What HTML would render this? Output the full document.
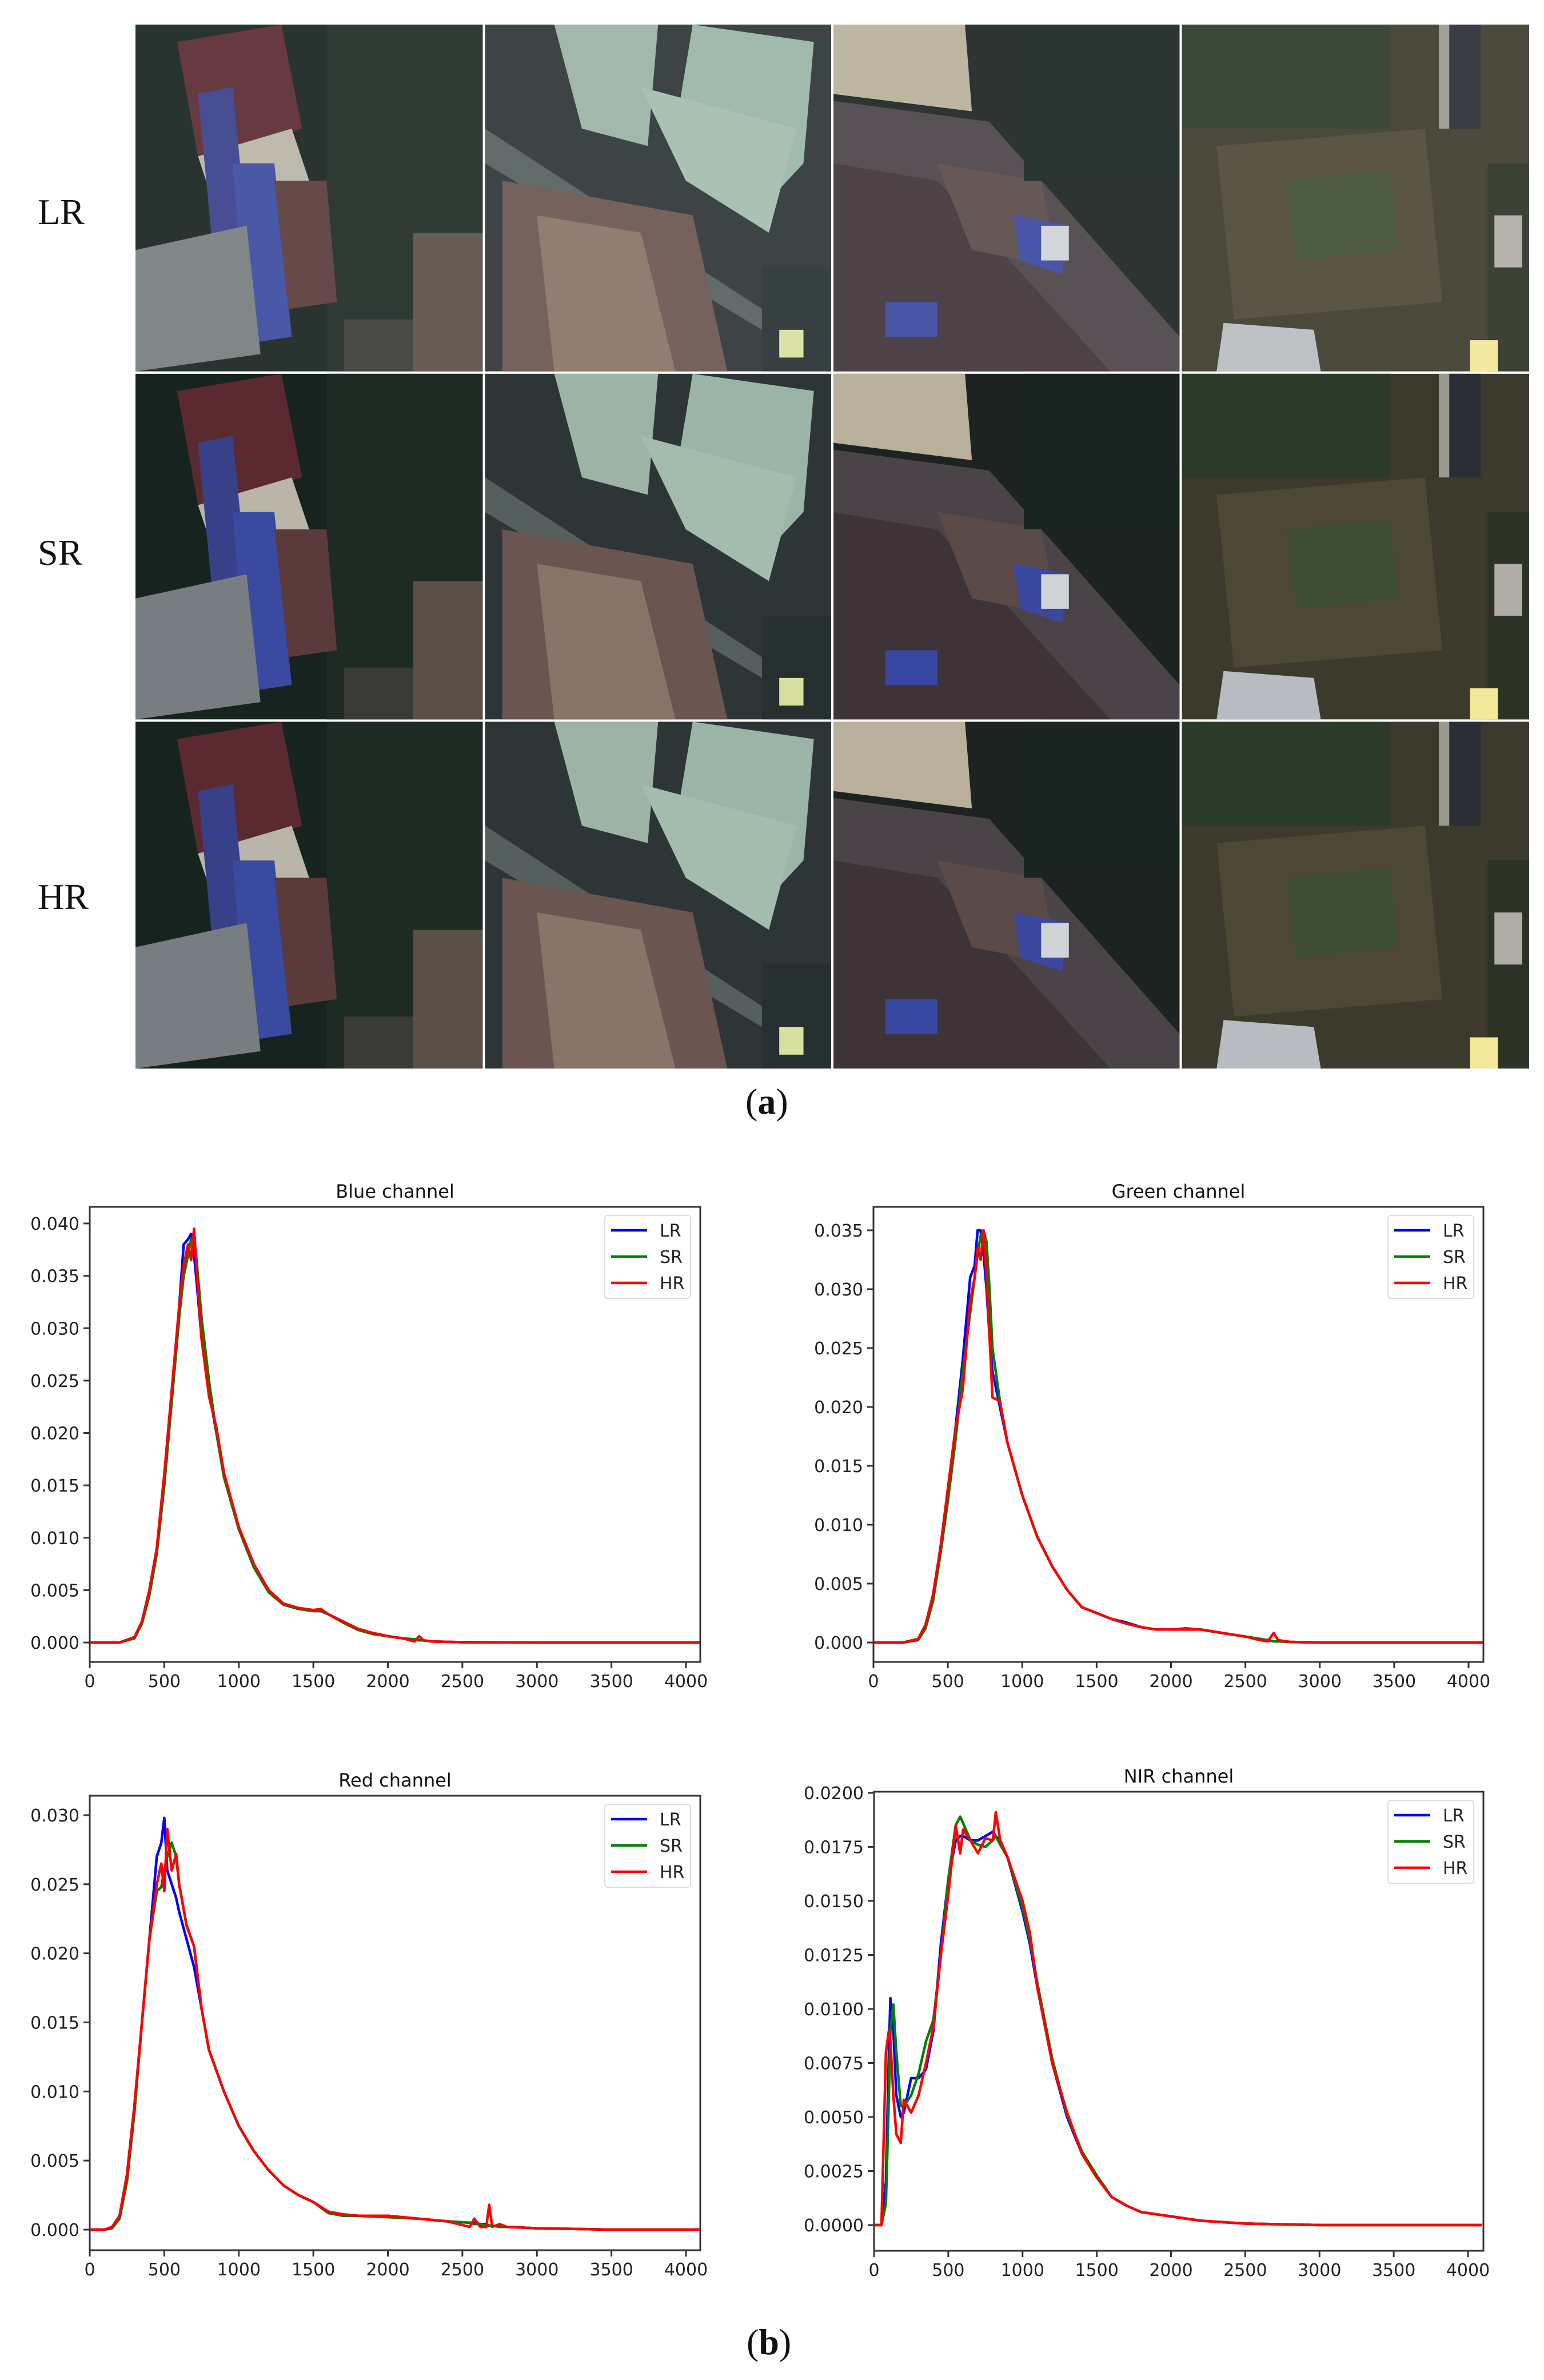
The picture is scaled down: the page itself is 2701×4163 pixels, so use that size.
<!DOCTYPE html>
<html><head><meta charset="utf-8">
<style>
html,body{margin:0;padding:0;background:#fff;}
body{width:2701px;height:4163px;position:relative;overflow:hidden;}
.rowlabel{position:absolute;font-family:"Liberation Serif",serif;font-size:64px;color:#111;}
.cap{position:absolute;font-family:"Liberation Serif",serif;font-size:64px;color:#111;}
</style></head>
<body>
<div class="rowlabel" style="left:66px;top:334px;">LR</div>
<div class="rowlabel" style="left:66px;top:930px;">SR</div>
<div class="rowlabel" style="left:66px;top:1532px;">HR</div>
<div class="cap" style="left:1304px;top:1890px;">(<b>a</b>)</div>
<div class="cap" style="left:1306px;top:4060px;">(<b>b</b>)</div>

<svg id="grid" width="2701" height="1900" style="position:absolute;left:0;top:0;" xmlns="http://www.w3.org/2000/svg">
<defs>
<symbol id="t1" viewBox="0 0 100 100" preserveAspectRatio="none">
<rect width="100" height="100" fill="#17231f"/>
<rect x="55" y="0" width="45" height="100" fill="#1e2a24"/>
<polygon points="12,5 42,0 48,30 18,38" fill="#5a2a30"/>
<polygon points="18,38 45,30 50,45 22,50" fill="#b9b5a8"/>
<polygon points="18,20 28,18 32,60 22,62" fill="#38408a"/>
<polygon points="28,40 40,40 45,90 32,92" fill="#3a4aa0"/>
<polygon points="40,45 55,45 58,80 44,82" fill="#5a3a3a"/>
<polygon points="0,65 32,58 36,95 0,100" fill="#777d80"/>
<rect x="80" y="60" width="20" height="40" fill="#5a5048"/>
<rect x="60" y="85" width="20" height="15" fill="#3a3a36"/>
</symbol>
<symbol id="t2" viewBox="0 0 100 100" preserveAspectRatio="none">
<rect width="100" height="100" fill="#2e3536"/>
<polygon points="20,0 50,0 47,35 28,30" fill="#9cb3a6"/>
<polygon points="60,0 95,5 92,40 78,55 55,30" fill="#9ab5a8"/>
<polygon points="45,18 90,30 82,60 58,45" fill="#a4bcae"/>
<polygon points="0,30 100,95 100,100 0,40" fill="#55605e"/>
<polygon points="5,45 60,55 70,100 5,100" fill="#6a5550"/>
<polygon points="15,55 45,60 55,100 20,100" fill="#8a7368"/>
<rect x="80" y="70" width="20" height="30" fill="#263030"/>
<rect x="85" y="88" width="7" height="8" fill="#d8e0a0"/>
</symbol>
<symbol id="t3" viewBox="0 0 100 100" preserveAspectRatio="none">
<rect width="100" height="100" fill="#1c2320"/>
<polygon points="0,0 38,0 40,25 0,20" fill="#b8b09a"/>
<polygon points="0,22 45,28 100,90 100,100 60,100 0,45" fill="#4a4448"/>
<polygon points="0,40 30,45 80,100 0,100" fill="#3e3438"/>
<polygon points="30,40 60,45 65,70 40,65" fill="#5a4a48"/>
<polygon points="52,55 68,58 66,72 54,68" fill="#3a48a0"/>
<rect x="60" y="58" width="8" height="10" fill="#d0d4d8"/>
<rect x="15" y="80" width="15" height="10" fill="#3848a0"/>
<rect x="55" y="0" width="45" height="45" fill="#1a2420"/>
</symbol>
<symbol id="t4" viewBox="0 0 100 100" preserveAspectRatio="none">
<rect width="100" height="100" fill="#3b3a2c"/>
<rect x="0" y="0" width="60" height="30" fill="#2c3a2a"/>
<polygon points="10,35 70,30 75,80 15,85" fill="#4d4736"/>
<polygon points="30,45 60,42 62,65 33,68" fill="#3e4e34"/>
<rect x="76" y="0" width="10" height="30" fill="#2a2e34"/>
<rect x="74" y="0" width="3" height="30" fill="#9a9a90"/>
<rect x="88" y="40" width="12" height="60" fill="#2c3326"/>
<rect x="90" y="55" width="8" height="15" fill="#b0aca8"/>
<polygon points="12,86 38,88 40,100 10,100" fill="#b8bcc0"/>
<rect x="83" y="91" width="8" height="9" fill="#f4e89a"/>
</symbol>
</defs>
</svg>

<svg id="charts" width="2701" height="4163" style="position:absolute;left:0;top:0;" xmlns="http://www.w3.org/2000/svg"></svg>

<script>
// ---- chart data ----
const seriesNames = ["LR", "SR", "HR"];
const xTickValues = [0, 500, 1000, 1500, 2000, 2500, 3000, 3500, 4000];

const blueX  = [0,200,300,350,400,450,500,550,600,630,660,680,700,720,750,800,850,900,1000,1100,1200,1300,1400,1500,1550,1600,1700,1800,1900,2000,2100,2180,2210,2240,2300,2500,3000,4096];
const blueLR = [0,0,0.0005,0.002,0.005,0.009,0.016,0.024,0.032,0.038,0.0385,0.039,0.037,0.034,0.029,0.024,0.020,0.016,0.011,0.0075,0.005,0.0037,0.0033,0.003,0.003,0.0027,0.002,0.0013,0.0009,0.0006,0.0004,0.0003,0.0002,0.0002,0.0001,0.00003,0,0];
const blueSR = [0,0,0.0004,0.0018,0.0045,0.0085,0.015,0.023,0.031,0.035,0.037,0.0385,0.0388,0.036,0.031,0.025,0.020,0.0158,0.0108,0.0072,0.0048,0.0036,0.0032,0.003,0.003,0.0027,0.0019,0.0012,0.0008,0.0006,0.0004,0.0003,0.0002,0.0002,0.0001,0.00003,0,0];
const blueHR = [0,0,0.0005,0.002,0.005,0.009,0.016,0.024,0.032,0.036,0.038,0.0365,0.0395,0.035,0.029,0.0235,0.0205,0.0162,0.011,0.0075,0.005,0.0037,0.0033,0.0031,0.0032,0.0027,0.002,0.0013,0.0009,0.0006,0.0004,0.0001,0.0006,0.0002,0.0001,0.00003,0,0];
const blueYTicks = [0,0.005,0.010,0.015,0.020,0.025,0.030,0.035,0.040];

const greenX  = [0,200,300,350,400,450,500,550,600,650,680,700,720,740,760,780,800,850,900,1000,1100,1200,1300,1400,1500,1600,1700,1800,1900,2000,2100,2200,2300,2400,2500,2600,2650,2690,2720,2800,3000,4096];
const greenLR = [0,0,0.0003,0.0015,0.004,0.008,0.013,0.018,0.024,0.031,0.032,0.035,0.035,0.033,0.030,0.026,0.023,0.020,0.017,0.0125,0.009,0.0065,0.0045,0.003,0.0025,0.002,0.0017,0.0013,0.0011,0.0011,0.0011,0.0011,0.0009,0.0007,0.0005,0.0003,0.0002,0.0001,0.0001,0.00005,0,0];
const greenSR = [0,0,0.0002,0.0012,0.0035,0.0075,0.012,0.017,0.023,0.028,0.031,0.033,0.0345,0.035,0.034,0.030,0.025,0.0205,0.017,0.0125,0.009,0.0065,0.0045,0.003,0.0025,0.002,0.0016,0.0013,0.0011,0.0011,0.0012,0.0011,0.0009,0.0007,0.0005,0.0003,0.0002,0.0001,0.0001,0.00005,0,0];
const greenHR = [0,0,0.0003,0.0015,0.004,0.008,0.013,0.018,0.0215,0.029,0.031,0.0335,0.0325,0.035,0.031,0.026,0.0208,0.0205,0.017,0.0125,0.009,0.0065,0.0045,0.003,0.0025,0.002,0.0016,0.0013,0.0011,0.0011,0.0011,0.0011,0.0009,0.0007,0.0005,0.0002,0.0001,0.0008,0.0002,0.00005,0,0];
const greenYTicks = [0,0.005,0.010,0.015,0.020,0.025,0.030,0.035];

const redX  = [0,100,150,200,250,300,350,400,450,480,500,520,550,580,600,650,700,750,800,900,1000,1100,1200,1300,1400,1500,1600,1700,1800,2000,2200,2400,2550,2580,2620,2660,2680,2700,2750,2800,3000,3500,4096];
const redLR = [0,0,0.0002,0.001,0.004,0.009,0.015,0.021,0.027,0.028,0.0298,0.026,0.025,0.024,0.023,0.021,0.019,0.016,0.013,0.01,0.0075,0.0057,0.0043,0.0032,0.0025,0.002,0.0013,0.0011,0.001,0.001,0.0008,0.0006,0.0005,0.0005,0.0004,0.0004,0.0003,0.0003,0.0002,0.0002,0.0001,0,0];
const redSR = [0,0,0.0001,0.0008,0.0035,0.0085,0.015,0.021,0.0245,0.0248,0.026,0.027,0.028,0.027,0.025,0.022,0.0205,0.016,0.013,0.01,0.0075,0.0057,0.0043,0.0032,0.0025,0.002,0.0012,0.001,0.001,0.0009,0.0008,0.0006,0.0005,0.0004,0.0004,0.0003,0.0003,0.0003,0.0002,0.0002,0.0001,0,0];
const redHR = [0,0,0.0002,0.001,0.004,0.009,0.015,0.021,0.025,0.0265,0.0245,0.029,0.026,0.0272,0.025,0.022,0.0205,0.016,0.013,0.01,0.0075,0.0057,0.0043,0.0032,0.0025,0.002,0.0013,0.0011,0.001,0.001,0.0008,0.0006,0.0002,0.0008,0.0002,0.0002,0.0018,0.0002,0.0004,0.0002,0.0001,0,0];
const redYTicks = [0,0.005,0.010,0.015,0.020,0.025,0.030];

const nirX  = [0,50,80,100,110,130,150,180,200,250,300,350,400,450,500,550,580,600,650,700,750,800,820,850,900,1000,1050,1100,1200,1300,1400,1500,1600,1700,1800,2000,2200,2500,3000,4096];
const nirLR = [0,0,0.002,0.008,0.0105,0.009,0.006,0.005,0.0052,0.0068,0.0068,0.0072,0.009,0.013,0.016,0.0178,0.018,0.018,0.0178,0.0178,0.018,0.0182,0.018,0.0178,0.017,0.0145,0.013,0.011,0.0075,0.005,0.0033,0.0022,0.0013,0.0009,0.0006,0.0004,0.0002,0.00007,0,0];
const nirSR = [0,0,0.001,0.006,0.009,0.0102,0.008,0.0055,0.0055,0.006,0.007,0.0085,0.0095,0.0125,0.016,0.0185,0.0189,0.0186,0.0178,0.0176,0.0175,0.0178,0.018,0.0176,0.017,0.0147,0.0132,0.0112,0.0077,0.0051,0.0034,0.0023,0.0013,0.0009,0.0006,0.0004,0.0002,0.00007,0,0];
const nirHR = [0,0,0.008,0.009,0.0085,0.006,0.0042,0.0038,0.0058,0.0052,0.006,0.0075,0.0092,0.0125,0.0153,0.0185,0.0172,0.0183,0.0178,0.0172,0.0179,0.0178,0.0191,0.0178,0.017,0.015,0.0135,0.011,0.0075,0.0052,0.0033,0.0022,0.0013,0.0009,0.0006,0.0004,0.0002,0.00007,0,0];
const nirYTicks = [0,0.0025,0.0050,0.0075,0.0100,0.0125,0.0150,0.0175,0.0200];

const NS = "http://www.w3.org/2000/svg";

// ---- image grid ----
const grid = document.getElementById("grid");
const gx0 = 237, gy0 = 43, cw = 609.5, rh = 608.7, gap = 4;
const rows = ["lr", "sr", "hr"];
for (let r = 0; r < 3; r++) {
  for (let c = 0; c < 4; c++) {
    const u = document.createElementNS(NS, "use");
    u.setAttribute("href", "#t" + (c + 1));
    u.setAttribute("x", gx0 + c * cw + (c ? gap / 2 : 0));
    u.setAttribute("y", gy0 + r * rh + (r ? gap / 2 : 0));
    u.setAttribute("width", cw - (c ? gap / 2 : 0) - (c < 3 ? gap / 2 : 0));
    u.setAttribute("height", rh - (r ? gap / 2 : 0) - (r < 2 ? gap / 2 : 0));
    if (r === 0) u.setAttribute("opacity", "0.92");
    
    
    grid.appendChild(u);
  }
}

// ---- charts ----
const svg = document.getElementById("charts");
function mk(tag, attrs, parent) {
  const e = document.createElementNS(NS, tag);
  for (const k in attrs) e.setAttribute(k, attrs[k]);
  (parent || svg).appendChild(e);
  return e;
}
const colors = ["#0000ff", "#008000", "#ff0000"];

function drawChart(id, title, box, y0px, yTpx, yTval, x0px, x4px, xs, series, yticks, dec) {
  const [L, T, R, B] = box;
  const g = mk("g", {});
  
  
  const xS = v => x0px + (v / 4000) * (x4px - x0px);
  const yS = v => y0px - (v / yTval) * (y0px - yTpx);
  const clipId = "clip-" + id;
  const cp = mk("clipPath", { id: clipId }, g);
  mk("rect", { x: L, y: T, width: R - L, height: B - T }, cp);

  const t = mk("text", { x: (L + R) / 2, y: T - 16, "text-anchor": "middle", "font-family": "DejaVu Sans, sans-serif", "font-size": 32, fill: "#111" }, g);
  t.textContent = title;
  
  

  const lg = mk("g", { "clip-path": "url(#" + clipId + ")" }, g);
  series.forEach((ys, i) => {
    const pts = xs.map((x, j) => xS(x).toFixed(1) + "," + yS(ys[j]).toFixed(1)).join(" ");
    const pl = mk("polyline", { points: pts, fill: "none", stroke: colors[i], "stroke-width": 4.5, "stroke-linejoin": "round" }, lg);
    
    
  });

  const frame = mk("rect", { x: L, y: T, width: R - L, height: B - T, fill: "none", stroke: "#333", "stroke-width": 3 }, g);
  
  

  yticks.forEach(v => {
    const y = yS(v);
    mk("line", { x1: L - 11, x2: L, y1: y, y2: y, stroke: "#333", "stroke-width": 3 }, g);
    const tl = mk("text", { x: L - 18, y: y + 11, "text-anchor": "end", "font-family": "DejaVu Sans, sans-serif", "font-size": 30, fill: "#222" }, g);
    tl.textContent = v.toFixed(dec);
    
    
  });
  xTickValues.forEach(v => {
    const x = xS(v);
    mk("line", { x1: x, x2: x, y1: B, y2: B + 11, stroke: "#333", "stroke-width": 3 }, g);
    const tl = mk("text", { x: x, y: B + 44, "text-anchor": "middle", "font-family": "DejaVu Sans, sans-serif", "font-size": 30, fill: "#222" }, g);
    tl.textContent = String(v);
    
    
  });

  // legend
  const lx = R - 167, ly = T + 15;
  const lb = mk("rect", { x: lx, y: ly, width: 150, height: 145, rx: 5, fill: "#fff", stroke: "#ddd", "stroke-width": 2 }, g);
  
  
  seriesNames.forEach((n, i) => {
    const yy = ly + 26 + i * 46;
    const ll = mk("line", { x1: lx + 11, x2: lx + 74, y1: yy, y2: yy, stroke: colors[i], "stroke-width": 4.5 }, g);
    
    
    const lt = mk("text", { x: lx + 96, y: yy + 11, "font-family": "DejaVu Sans, sans-serif", "font-size": 30, fill: "#222" }, g);
    lt.textContent = n;
    
    
  });
}

drawChart("blue", "Blue channel", [157, 2111, 1225, 2907], 2873, 2140, 0.040, 157, 1200, blueX, [blueLR, blueSR, blueHR], blueYTicks, 3);
drawChart("green", "Green channel", [1528, 2111, 2595, 2907], 2873, 2152, 0.035, 1528, 2569, greenX, [greenLR, greenSR, greenHR], greenYTicks, 3);
drawChart("red", "Red channel", [157, 3141, 1225, 3936], 3900, 3175, 0.030, 157, 1200, redX, [redLR, redSR, redHR], redYTicks, 3);
drawChart("nir", "NIR channel", [1529, 3134, 2595, 3937], 3892, 3136, 0.020, 1529, 2568, nirX, [nirLR, nirSR, nirHR], nirYTicks, 4);
</script>
</body></html>
